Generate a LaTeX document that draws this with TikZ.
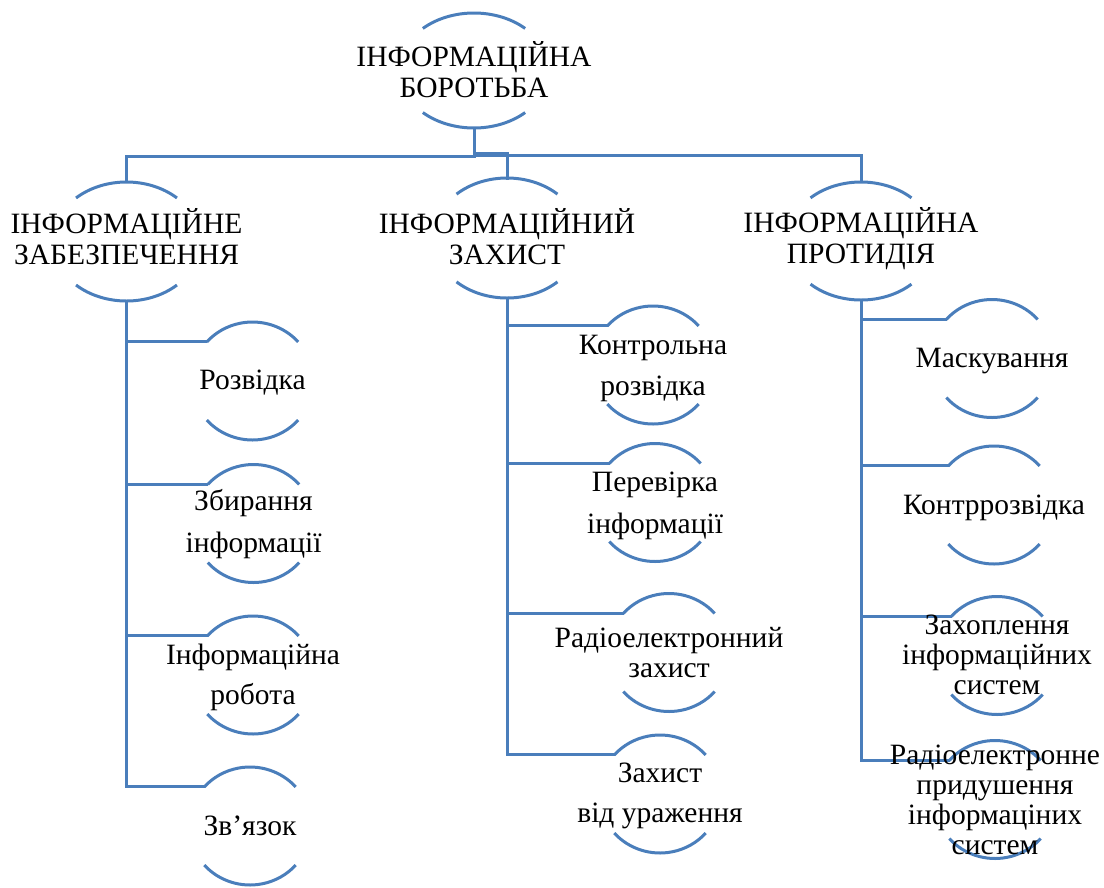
\documentclass[tikz,border=0pt]{standalone}
\usepackage{fontspec}
\setmainfont{Liberation Serif}
\usetikzlibrary{shapes.geometric}
\definecolor{lineblue}{RGB}{74,126,187}
\tikzset{
  conn/.style={draw=lineblue, line width=3pt},
  rim/.style={draw=lineblue, line width=3pt},
  ovalA/.style={ellipse, draw=none, minimum width=150pt, minimum height=117pt, inner sep=0pt, outer sep=0pt},
  ovalB/.style={ellipse, draw=none, minimum width=122pt, minimum height=118pt, inner sep=0pt, outer sep=0pt},
  lab/.style={align=center, inner sep=0pt, font=\fontsize{29.5pt}{#1}\selectfont},
  lab/.default=40pt,
}
% #1 node name, #2 x radius, #3 y radius, #4 start angle of the upper arc
\newcommand\ovalrims[4]{%
  \pgfmathsetmacro\rimE{180-#4}%
  \pgfmathsetmacro\rimS{180+#4}%
  \pgfmathsetmacro\rimF{360-#4}%
  \draw[rim] (#1.center) ++(#4:#2 and #3) arc[start angle=#4, end angle=\rimE, x radius=#2, y radius=#3];
  \draw[rim] (#1.center) ++(\rimS:#2 and #3) arc[start angle=\rimS, end angle=\rimF, x radius=#2, y radius=#3];
}
\begin{document}
\begin{tikzpicture}[x=1pt,y=1pt]
\useasboundingbox (0,0) rectangle (1104,-887);
% shapes
\node[ovalA] (r) at (474,-70.5) {};
\node[ovalA] (A) at (126.5,-241.5) {};
\node[ovalA] (B) at (507,-238) {};
\node[ovalA] (C) at (861,-241) {};
\node[ovalB] (a1) at (252.5,-381) {};
\node[ovalB] (a2) at (253.5,-523.5) {};
\node[ovalB] (a3) at (253,-675) {};
\node[ovalB] (a4) at (250,-826) {};
\node[ovalB] (b1) at (653,-365) {};
\node[ovalB] (b2) at (655,-502.5) {};
\node[ovalB] (b3) at (669,-652.5) {};
\node[ovalB] (b4) at (660,-794) {};
\node[ovalB] (c1) at (992,-358.5) {};
\node[ovalB] (c2) at (994,-505) {};
\node[ovalB] (c3) at (997,-655.5) {};
\node[ovalB] (c4) at (995,-799.5) {};
\ovalrims{r}{75pt}{57.5pt}{47}
\ovalrims{A}{74pt}{59.5pt}{47}
\ovalrims{B}{74pt}{60pt}{47}
\ovalrims{C}{74pt}{59pt}{47}
\foreach \n in {a1,a2,a3,a4,b1,b2,b3,b4,c1,c2,c3,c4}{\ovalrims{\n}{61pt}{59pt}{41.5}}
% connectors
\coordinate (jA) at (474,-156);
\coordinate (jB) at (474,-153);
\coordinate (jC) at (474,-155);
\draw[conn] (r.south) -- (jA) -| (A.north);
\draw[conn] (r.south) -- (jB) -| (B.north);
\draw[conn] (r.south) -- (jC) -| (C.north);
\foreach \p/\c in {A/a1,A/a2,A/a3,A/a4,B/b1,B/b2,B/b3,B/b4,C/c1,C/c2,C/c3,C/c4}{
  \draw[conn] (\p.south) |- (\c.139.5);
}
% texts
\node[lab=31pt] (rT) at ([yshift=1pt]r.center) {ІНФОРМАЦІЙНА\\БОРОТЬБА};
\node[lab=31pt] (AT) at ([yshift=5pt]A.center) {ІНФОРМАЦІЙНЕ\\ЗАБЕЗПЕЧЕННЯ};
\node[lab=31pt] (BT) at ([yshift=1pt]B.center) {ІНФОРМАЦІЙНИЙ\\ЗАХИСТ};
\node[lab=31pt] (CT) at ([yshift=2pt]C.center) {ІНФОРМАЦІЙНА\\ПРОТИДІЯ};
\node[lab] (a1T) at ([yshift=-2pt]a1.center) {Розвідка};
\node[lab=42pt] (a2T) at ([yshift=-1pt]a2.center) {Збирання\\інформації};
\node[lab=40pt] (a3T) at ([yshift=-2pt]a3.center) {Інформаційна\\робота};
\node[lab] (a4T) at (a4.center) {Зв’язок};
\node[lab=41pt] (b1T) at ([yshift=-3pt]b1.center) {Контрольна\\розвідка};
\node[lab=42pt] (b2T) at ([yshift=-3pt]b2.center) {Перевірка\\інформації};
\node[lab=30pt] (b3T) at (b3.center) {Радіоелектронний\\захист};
\node[lab=40pt] (b4T) at ([yshift=-1.5pt]b4.center) {Захист\\від ураження};
\node[lab] (c1T) at ([yshift=-3pt]c1.center) {Маскування};
\node[lab] (c2T) at ([yshift=-3pt]c2.center) {Контррозвідка};
\node[lab=30pt] (c3T) at ([yshift=1pt]c3.center) {Захоплення\\інформаційних\\систем};
\node[lab=30pt] (c4T) at (c4.center) {Радіоелектронне\\придушення\\інформаціних\\систем};
\end{tikzpicture}
\end{document}
